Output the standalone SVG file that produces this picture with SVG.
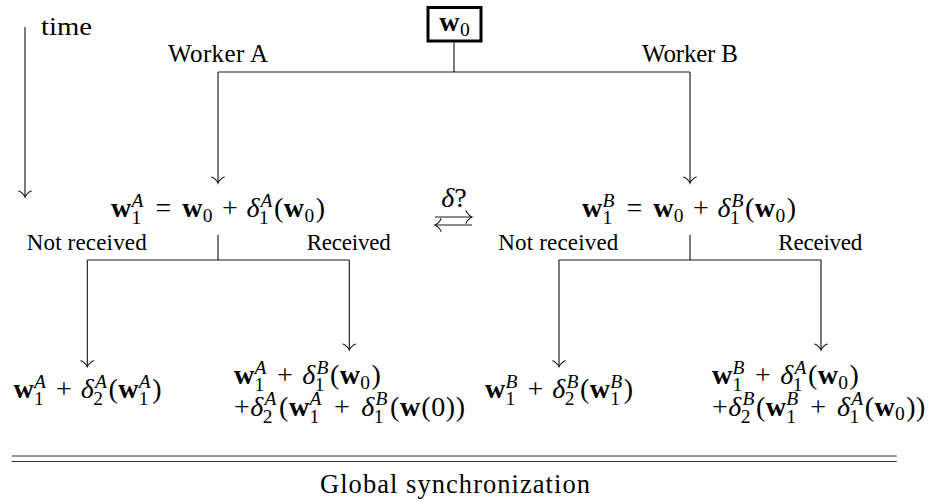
<svg xmlns="http://www.w3.org/2000/svg" width="930" height="502" viewBox="0 0 930 502">
  <defs>
    <style>
      .lbl { font-family: "Liberation Serif", "Times New Roman", serif; fill: #000; }
      .m { font-family: "Liberation Serif", "Times New Roman", serif; font-size: 28px; fill: #000; }
      .c { text-anchor: middle; }
      .b { font-weight: 700; }
      .i { font-style: italic; }
      .s { font-size: 19.5px; }
      .wire { fill: none; stroke: #1a1a1a; stroke-width: 1.15; }
      .arr { marker-end: url(#tip); }
      .rule { fill: none; stroke: #333; stroke-width: 1.2; }
    </style>
    <marker id="tip" viewBox="-8 -8 10 16" refX="0" refY="0" markerWidth="10" markerHeight="16" markerUnits="userSpaceOnUse" orient="auto">
      <path d="M-6,-6.4 C-5.6,-4 -1.2,-0.4 0,0 C-1.2,0.4 -5.6,4 -6,6.4" fill="none" stroke="#1a1a1a" stroke-width="1.1" stroke-linecap="round"/>
    </marker>
  </defs>

  <!-- time axis -->
  <g id="time-axis">
    <path class="wire arr" d="M25,27 V197"/>
    <text class="lbl" x="41" y="35" font-size="25" textLength="51" lengthAdjust="spacingAndGlyphs">time</text>
  </g>

  <!-- connectors -->
  <g id="connectors">
    <path class="wire" d="M454,42.5 V72 M218,72 H690"/>
    <path class="wire arr" d="M218,72 V183"/>
    <path class="wire arr" d="M690,72 V183"/>

    <path class="wire" d="M218,235 V260 M87.3,260 H349.3"/>
    <path class="wire arr" d="M87.3,260 V366.7"/>
    <path class="wire arr" d="M349.3,260 V350"/>

    <path class="wire" d="M690,235 V260 M559,260 H821"/>
    <path class="wire arr" d="M559,260 V366.7"/>
    <path class="wire arr" d="M821,260 V350"/>

    <!-- exchange between the workers -->
    <path class="wire arr" d="M435,217 H472"/>
    <path class="wire arr" d="M472,225 H435"/>
    <text class="m c" x="454" y="206.5"><tspan class="i">δ</tspan>?</text>

    <text class="lbl" x="168" y="62" font-size="25" textLength="100">Worker A</text>
    <text class="lbl" x="642" y="61.5" font-size="25" textLength="96">Worker B</text>
    <text class="lbl" x="26.7" y="250" font-size="23" textLength="120">Not received</text>
    <text class="lbl" x="306.7" y="250" font-size="23" textLength="84">Received</text>
    <text class="lbl" x="498.3" y="250" font-size="23" textLength="120">Not received</text>
    <text class="lbl" x="778.3" y="250" font-size="23" textLength="84">Received</text>
  </g>

  <!-- initial weights -->
  <g id="w0">
    <rect x="428" y="7.5" width="53" height="33.5" fill="#fff" stroke="#000" stroke-width="3"/>
    <text class="m c" x="454.5" y="31"><tspan class="b">w</tspan><tspan class="s" dx="0.3" dy="4.5">0</tspan></text>
  </g>

  <!-- worker A, step 1 -->
  <g id="wA1">
    <text class="m c" x="218" y="217"><tspan class="b">w</tspan><tspan class="s i" dx="0.3" dy="-10.5">A</tspan><tspan class="s" dx="-11.9" dy="17.5">1</tspan><tspan dx="14.15" dy="-7">=</tspan><tspan class="b" dx="11">w</tspan><tspan class="s" dx="0.3" dy="4.5">0</tspan><tspan dx="9.5" dy="-4.5">+</tspan><tspan class="i" dx="8.5">δ</tspan><tspan class="s i" dx="1.2" dy="-10.5">A</tspan><tspan class="s" dx="-13.6" dy="17.5">1</tspan><tspan dx="5.35" dy="-7">(</tspan><tspan class="b" dx="0.5">w</tspan><tspan class="s" dx="0.3" dy="4.5">0</tspan><tspan dx="1.5" dy="-4.5">)</tspan></text>
  </g>

  <!-- worker B, step 1 -->
  <g id="wB1">
    <text class="m c" x="689" y="217"><tspan class="b">w</tspan><tspan class="s i" dx="0.3" dy="-10.5">B</tspan><tspan class="s" dx="-11.9" dy="17.5">1</tspan><tspan dx="14.15" dy="-7">=</tspan><tspan class="b" dx="11">w</tspan><tspan class="s" dx="0.3" dy="4.5">0</tspan><tspan dx="9.5" dy="-4.5">+</tspan><tspan class="i" dx="8.5">δ</tspan><tspan class="s i" dx="1.2" dy="-10.5">B</tspan><tspan class="s" dx="-13.6" dy="17.5">1</tspan><tspan dx="5.35" dy="-7">(</tspan><tspan class="b" dx="0.5">w</tspan><tspan class="s" dx="0.3" dy="4.5">0</tspan><tspan dx="1.5" dy="-4.5">)</tspan></text>
  </g>

  <!-- worker A, step 2, nothing received -->
  <g id="wA2-local">
    <text class="m c" x="87.5" y="398"><tspan class="b">w</tspan><tspan class="s i" dx="0.3" dy="-10.5">A</tspan><tspan class="s" dx="-11.9" dy="17.5">1</tspan><tspan dx="12.15" dy="-7">+</tspan><tspan class="i" dx="9">δ</tspan><tspan class="s i" dx="1.2" dy="-10.5">A</tspan><tspan class="s" dx="-13.6" dy="17.5">2</tspan><tspan dx="5.35" dy="-7">(</tspan><tspan class="b" dx="0.5">w</tspan><tspan class="s i" dx="0.3" dy="-10.5">A</tspan><tspan class="s" dx="-11.9" dy="17.5">1</tspan><tspan dx="3.65" dy="-7">)</tspan></text>
  </g>

  <!-- worker A, step 2, update from B received -->
  <g id="wA2-merged">
    <text class="m" x="234" y="384"><tspan class="b">w</tspan><tspan class="s i" dx="0.3" dy="-10.5">A</tspan><tspan class="s" dx="-11.9" dy="17.5">1</tspan><tspan dx="12.65" dy="-7">+</tspan><tspan class="i" dx="9.5">δ</tspan><tspan class="s i" dx="1.2" dy="-10.5">B</tspan><tspan class="s" dx="-13.6" dy="17.5">1</tspan><tspan dx="5.35" dy="-7">(</tspan><tspan class="b" dx="0.5">w</tspan><tspan class="s" dx="0.3" dy="4.5">0</tspan><tspan dx="1.5" dy="-4.5">)</tspan></text>
    <text class="m" x="234" y="415.5"><tspan>+</tspan><tspan class="i" dx="0.5">δ</tspan><tspan class="s i" dx="1.2" dy="-10.5">A</tspan><tspan class="s" dx="-13.6" dy="17.5">2</tspan><tspan dx="6.35" dy="-7">(</tspan><tspan class="b" dx="0.8">w</tspan><tspan class="s i" dx="0.3" dy="-10.5">A</tspan><tspan class="s" dx="-11.9" dy="17.5">1</tspan><tspan dx="14.65" dy="-7">+</tspan><tspan class="i" dx="11.5">δ</tspan><tspan class="s i" dx="1.2" dy="-10.5">B</tspan><tspan class="s" dx="-13.6" dy="17.5">1</tspan><tspan dx="6.35" dy="-7">(</tspan><tspan class="b" dx="0.8">w</tspan><tspan dx="1">(</tspan><tspan dx="0.5">0</tspan><tspan dx="0.5">)</tspan><tspan dx="0.8">)</tspan></text>
  </g>

  <!-- worker B, step 2, nothing received -->
  <g id="wB2-local">
    <text class="m c" x="559" y="398"><tspan class="b">w</tspan><tspan class="s i" dx="0.3" dy="-10.5">B</tspan><tspan class="s" dx="-11.9" dy="17.5">1</tspan><tspan dx="12.15" dy="-7">+</tspan><tspan class="i" dx="9">δ</tspan><tspan class="s i" dx="1.2" dy="-10.5">B</tspan><tspan class="s" dx="-13.6" dy="17.5">2</tspan><tspan dx="5.35" dy="-7">(</tspan><tspan class="b" dx="0.5">w</tspan><tspan class="s i" dx="0.3" dy="-10.5">B</tspan><tspan class="s" dx="-11.9" dy="17.5">1</tspan><tspan dx="3.65" dy="-7">)</tspan></text>
  </g>

  <!-- worker B, step 2, update from A received -->
  <g id="wB2-merged">
    <text class="m" x="712" y="384"><tspan class="b">w</tspan><tspan class="s i" dx="0.3" dy="-10.5">B</tspan><tspan class="s" dx="-11.9" dy="17.5">1</tspan><tspan dx="12.65" dy="-7">+</tspan><tspan class="i" dx="9.5">δ</tspan><tspan class="s i" dx="1.2" dy="-10.5">A</tspan><tspan class="s" dx="-13.6" dy="17.5">1</tspan><tspan dx="5.35" dy="-7">(</tspan><tspan class="b" dx="0.5">w</tspan><tspan class="s" dx="0.3" dy="4.5">0</tspan><tspan dx="1.5" dy="-4.5">)</tspan></text>
    <text class="m" x="712" y="415.5"><tspan>+</tspan><tspan class="i" dx="0.5">δ</tspan><tspan class="s i" dx="1.2" dy="-10.5">B</tspan><tspan class="s" dx="-13.6" dy="17.5">2</tspan><tspan dx="5.35" dy="-7">(</tspan><tspan class="b" dx="0.5">w</tspan><tspan class="s i" dx="0.3" dy="-10.5">B</tspan><tspan class="s" dx="-11.9" dy="17.5">1</tspan><tspan dx="14.15" dy="-7">+</tspan><tspan class="i" dx="11">δ</tspan><tspan class="s i" dx="1.2" dy="-10.5">A</tspan><tspan class="s" dx="-13.6" dy="17.5">1</tspan><tspan dx="5.35" dy="-7">(</tspan><tspan class="b" dx="0.5">w</tspan><tspan class="s" dx="0.3" dy="4.5">0</tspan><tspan dx="1.5" dy="-4.5">)</tspan><tspan dx="0.5">)</tspan></text>
  </g>

  <!-- synchronization barrier -->
  <g id="sync">
    <path class="rule" d="M11.7,456 H896.7 M11.7,461.5 H896.7"/>
    <text class="lbl" x="320" y="493" font-size="26.5" textLength="270">Global synchronization</text>
  </g>
</svg>
